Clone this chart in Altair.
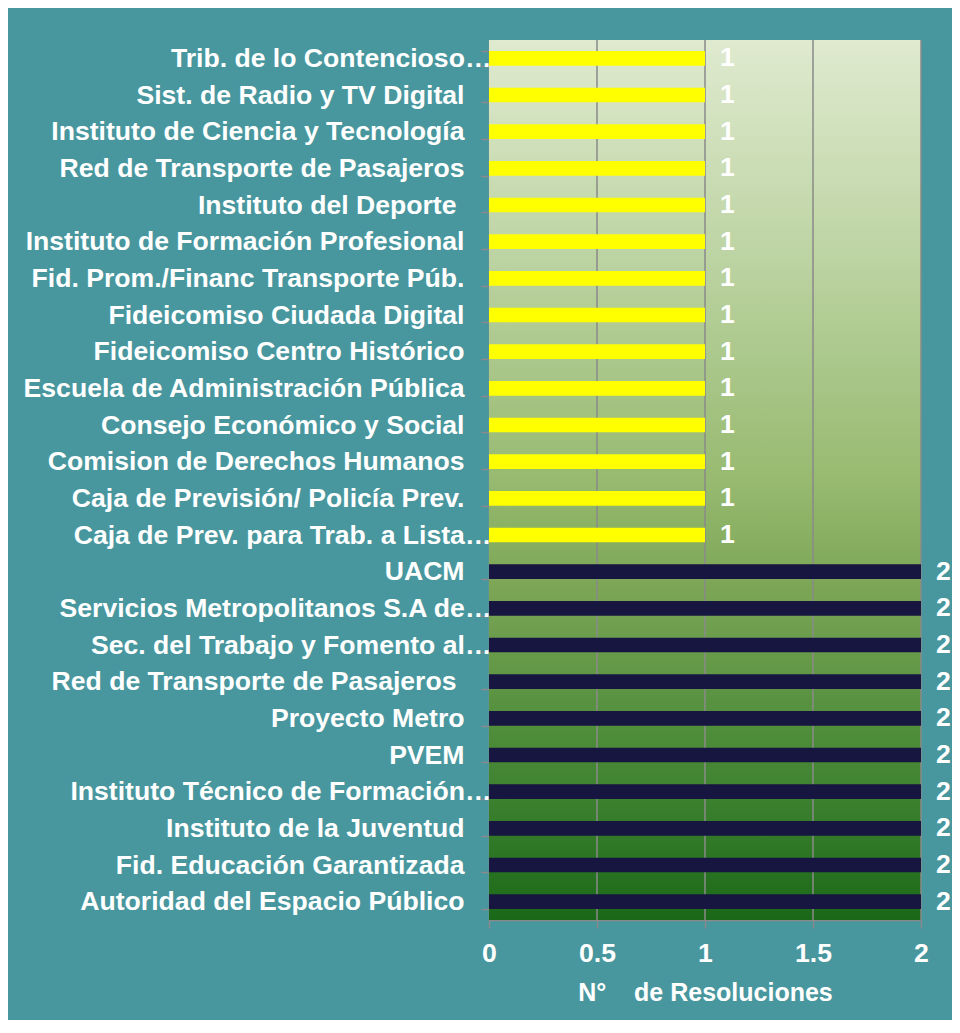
import altair as alt
import pandas as pd

categories = [
    "Trib. de lo Contencioso…",
    "Sist. de Radio y TV Digital",
    "Instituto de Ciencia y Tecnología",
    "Red de Transporte de Pasajeros",
    "Instituto del Deporte\u00a0",
    "Instituto de Formación Profesional",
    "Fid. Prom./Financ Transporte Púb.",
    "Fideicomiso Ciudada Digital",
    "Fideicomiso Centro Histórico",
    "Escuela de Administración Pública",
    "Consejo Económico y Social",
    "Comision de Derechos Humanos",
    "Caja de Previsión/ Policía Prev.",
    "Caja de Prev. para Trab. a Lista…",
    "UACM",
    "Servicios Metropolitanos S.A de…",
    "Sec. del Trabajo y Fomento al…",
    "Red de Transporte de Pasajeros\u00a0",
    "Proyecto Metro",
    "PVEM",
    "Instituto Técnico de Formación…",
    "Instituto de la Juventud",
    "Fid. Educación Garantizada",
    "Autoridad del Espacio Público",
]
values = [1, 1, 1, 1, 1, 1, 1, 1, 1, 1, 1, 1, 1, 1,
          2, 2, 2, 2, 2, 2, 2, 2, 2, 2]
x_ticks = [0, 0.5, 1, 1.5, 2]
grid_lines = [0.5, 1, 1.5, 2]
x_title = "N°\u00a0\u00a0\u00a0\u00a0de Resoluciones"

df = pd.DataFrame({"entidad": categories, "valor": values})
grid_df = pd.DataFrame({"valor": grid_lines})

FONT = "Liberation Sans"
BG = "#48979e"
GRID = "#8a8a8a"
W = 432
H = 880
FS = 26.6

x_scale = alt.Scale(domain=[0, 2], nice=False)
x_axis = alt.Axis(
    values=x_ticks,
    format=".1~f",
    title=x_title,
    titleFont=FONT,
    titleFontSize=25,
    titleFontWeight="bold",
    titleColor="white",
    titlePadding=14,
    labelFont=FONT,
    labelFontSize=FS,
    labelFontWeight="bold",
    labelColor="white",
    labelPadding=12,
    tickSize=8,
    tickColor=GRID,
    tickWidth=1.5,
    domainColor=GRID,
    domainWidth=1.5,
    grid=False,
    labelFlush=False,
)

y_enc = alt.Y(
    "entidad:N",
    sort=categories,
    scale=alt.Scale(paddingInner=0.6, paddingOuter=0.3),
    axis=alt.Axis(
        title=None,
        labelFont=FONT,
        labelFontSize=FS,
        labelFontWeight="bold",
        labelColor="white",
        labelLimit=600,
        tickBand="extent",
        tickSize=8,
        tickColor=GRID,
        tickWidth=1.5,
        domainColor=GRID,
        domainWidth=1.5,
        labelPadding={
            "condition": [
                {"test": "indexof(datum.label, '…') >= 0", "value": -10},
                {"test": "indexof(datum.label, '\u00a0') >= 0", "value": 25},
            ],
            "value": 17,
        },
    ),
)

gradient = alt.Gradient(
    gradient="linear",
    x1=0, x2=0, y1=0, y2=1,
    stops=[
        alt.GradientStop(offset=0.0, color="#dfeacf"),
        alt.GradientStop(offset=0.25, color="#bcd3a2"),
        alt.GradientStop(offset=0.5, color="#97ba70"),
        alt.GradientStop(offset=0.62, color="#7ca656"),
        alt.GradientStop(offset=0.8, color="#4b8b38"),
        alt.GradientStop(offset=1.0, color="#1a6918"),
    ],
)

backdrop = alt.Chart(pd.DataFrame({"k": [0]})).mark_rect(color=gradient).encode(
    x=alt.value(0), x2=alt.value(W), y=alt.value(0), y2=alt.value(H)
)

rules = alt.Chart(grid_df).mark_rule(color=GRID, strokeWidth=1.5).encode(
    x=alt.X("valor:Q", scale=x_scale, axis=x_axis)
)

bars = alt.Chart(df).mark_bar(opacity=1).encode(
    y=y_enc,
    x=alt.X("valor:Q", scale=x_scale, axis=x_axis),
    color=alt.Color(
        "valor:N",
        scale=alt.Scale(domain=[1, 2], range=["#ffff00", "#161641"]),
        legend=None,
    ),
)

labels = alt.Chart(df).mark_text(
    align="left",
    baseline="middle",
    dx=15,
    font=FONT,
    fontSize=FS,
    fontWeight="bold",
    color="white",
).encode(
    y=alt.Y("entidad:N", sort=categories),
    x=alt.X("valor:Q", scale=x_scale, axis=x_axis),
    text=alt.Text("valor:Q"),
)

chart = (
    alt.layer(backdrop, rules, bars, labels)
    .properties(
        width=W,
        height=H,
        padding={"left": 481, "top": 32, "right": 31, "bottom": 100},
        autosize=alt.AutoSizeParams(type="none"),
        background=BG,
    )
    .configure_view(strokeWidth=0)
)

chart.save("out.html", embed_options={"renderer": "svg", "actions": False})
